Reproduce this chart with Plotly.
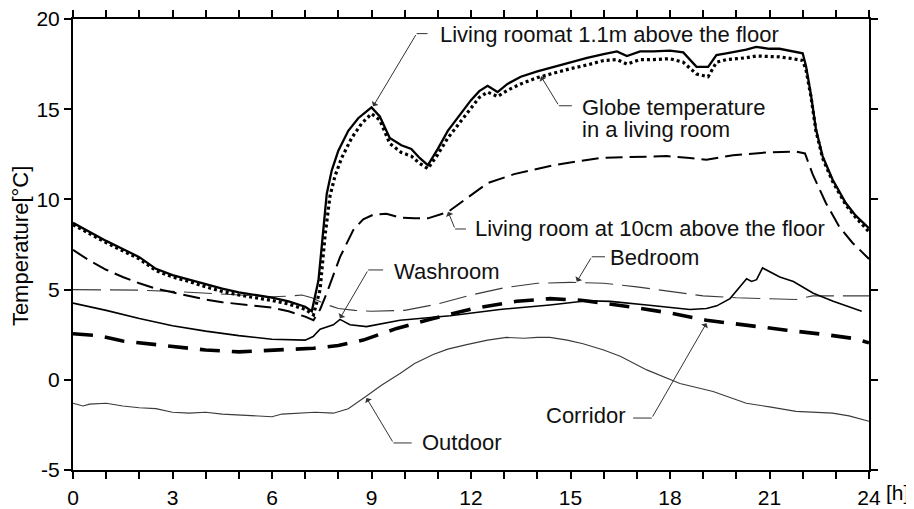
import plotly.graph_objects as go

# ---------------- data ----------------
x_tick_vals = list(range(25))
x_tick_text = ["0", "", "", "3", "", "", "6", "", "", "9", "", "", "12", "", "", "15",
               "", "", "18", "", "", "21", "", "", "24"]
y_tick_vals = [-5, 0, 5, 10, 15, 20]
y_tick_text = ["-5", "0", "5", "10", "15", "20"]

living11_h = [0, 0.5, 1, 1.5, 2, 2.5, 3, 3.5, 4, 4.5, 5, 5.5, 6, 6.5, 7, 7.2, 7.4, 7.5, 7.65,
              7.8, 8.0, 8.3, 8.6, 9.0, 9.25, 9.55, 9.9, 10.2, 10.45, 10.7, 11.0, 11.3, 11.6,
              12.0, 12.25, 12.5, 12.8, 13.1, 13.5, 14.0, 14.5, 15.0, 15.5, 16.0, 16.4, 16.7,
              17.1, 17.5, 18.0, 18.4, 18.8, 19.15, 19.4, 19.7, 20.0, 20.3, 20.6, 21.0, 21.3,
              21.7, 22.0, 22.1, 22.25, 22.4, 22.6, 22.9, 23.3, 23.6, 24.0]
living11_t = [8.7, 8.2, 7.7, 7.25, 6.8, 6.15, 5.8, 5.55, 5.3, 5.05, 4.85, 4.7, 4.55, 4.35, 4.05,
              3.8, 5.5, 7.4, 10.3, 11.6, 12.7, 13.8, 14.5, 15.1, 14.6, 13.4, 13.0, 12.8, 12.3,
              11.9, 12.8, 13.8, 14.5, 15.5, 16.0, 16.3, 15.95, 16.4, 16.8, 17.1, 17.35, 17.6,
              17.85, 18.05, 18.2, 17.95, 18.2, 18.2, 18.25, 18.15, 17.35, 17.35, 18.0, 18.1,
              18.2, 18.3, 18.45, 18.35, 18.35, 18.2, 18.1, 17.4, 15.8, 13.9, 12.4, 11.1, 9.8,
              9.1, 8.4]

globe_h = [0, 0.5, 1, 1.5, 2, 2.5, 3, 3.5, 4, 4.5, 5, 5.5, 6, 6.5, 7, 7.25, 7.45, 7.6, 7.75,
           7.9, 8.1, 8.4, 8.7, 9.0, 9.25, 9.55, 9.9, 10.2, 10.45, 10.7, 11.0, 11.3, 11.6, 12.0,
           12.25, 12.5, 12.8, 13.1, 13.5, 14.0, 14.5, 15.0, 15.5, 16.0, 16.4, 16.7, 17.1, 17.5,
           18.0, 18.4, 18.8, 19.15, 19.4, 19.7, 20.0, 20.3, 20.6, 21.0, 21.3, 21.7, 22.0, 22.1,
           22.25, 22.4, 22.6, 22.9, 23.3, 23.6, 24.0]
globe_t = [8.6, 8.1, 7.6, 7.15, 6.7, 6.05, 5.7, 5.45, 5.15, 4.9, 4.7, 4.55, 4.4, 4.2, 3.9, 3.6,
           5.0, 8.0, 10.2, 11.3, 12.3, 13.4, 14.2, 14.75, 14.4, 13.1, 12.6, 12.4, 12.0, 11.7,
           12.5, 13.4, 14.1, 15.1, 15.65, 15.95, 15.7, 16.05, 16.4, 16.75, 17.0, 17.25, 17.45,
           17.7, 17.75, 17.5, 17.75, 17.75, 17.8, 17.6, 16.95, 16.8, 17.6, 17.75, 17.8, 17.85,
           17.95, 17.9, 17.9, 17.8, 17.7, 17.2, 15.7, 13.8, 12.3, 11.0, 9.7, 9.0, 8.2]

living10_h = [0, 0.5, 1, 1.5, 2, 2.5, 3, 3.5, 4, 4.5, 5, 5.5, 6, 6.5, 7, 7.25, 7.45, 7.65, 8.05,
              8.45, 8.75, 9.05, 9.45, 9.85, 10.3, 10.7, 11.3, 11.9, 12.5, 13.3, 14.5, 15.9,
              16.9, 17.9, 18.6, 19.1, 19.9, 20.9, 21.8, 22.07, 22.3, 22.7, 23.1, 23.5, 24.0]
living10_t = [7.2, 6.6, 6.1, 5.7, 5.35, 5.05, 4.85, 4.65, 4.45, 4.3, 4.2, 4.1, 4.0, 3.8, 3.5,
              3.3, 3.9, 4.8, 6.8, 8.3, 8.9, 9.15, 9.2, 9.0, 8.95, 8.95, 9.3, 10.1, 10.9, 11.4,
              11.9, 12.3, 12.35, 12.4, 12.3, 12.2, 12.45, 12.6, 12.65, 12.55, 11.4, 9.8, 8.5,
              7.6, 6.7]

bedroom_h = [0, 1, 2, 3, 4, 5, 6, 6.6, 6.9, 7.2, 7.6, 8.0, 8.5, 9, 10, 11, 12, 13, 14, 15, 16,
             17, 18, 19, 20, 21, 21.5, 21.8, 22.3, 23, 24]
bedroom_t = [5.0, 5.0, 4.97, 4.9, 4.8, 4.7, 4.6, 4.65, 4.7, 4.55, 4.2, 3.95, 3.85, 3.8, 3.85,
             4.2, 4.7, 5.1, 5.35, 5.4, 5.35, 5.15, 4.9, 4.65, 4.55, 4.5, 4.45, 4.45, 4.65, 4.65,
             4.65]

washroom_h = [0, 1, 2, 3, 4, 5, 6, 7.0, 7.24, 7.45, 7.85, 8.05, 8.35, 8.85, 9.86, 11.37, 12.87,
              14.38, 15.5, 16.2, 17.3, 18.6, 19.1, 19.41, 19.81, 20.31, 20.46, 20.61, 20.79,
              21.31, 21.72, 22.32, 22.92, 23.78]
washroom_t = [4.25, 3.85, 3.4, 3.0, 2.7, 2.45, 2.25, 2.2, 2.4, 2.8, 3.05, 3.35, 3.05, 2.95, 3.3,
              3.55, 3.9, 4.15, 4.38, 4.35, 4.15, 3.9, 3.95, 4.1, 4.5, 5.6, 5.45, 5.55, 6.2, 5.7,
              5.45, 4.8, 4.35, 3.8]

corridor_h = [0, 0.75, 1.5, 2.5, 3.1, 4, 5, 6, 6.5, 7.25, 8.0, 8.75, 9.76, 10.86, 12.07, 13.38,
              14.38, 15.38, 16.79, 18.0, 19.1, 20.31, 21.52, 22.72, 23.5, 24]
corridor_t = [2.55, 2.45, 2.15, 1.95, 1.8, 1.65, 1.55, 1.65, 1.7, 1.75, 1.9, 2.2, 2.85, 3.4, 3.95,
              4.35, 4.5, 4.4, 4.05, 3.7, 3.3, 3.05, 2.75, 2.5, 2.3, 2.05]

outdoor_h = [0, 0.3, 0.5, 1, 1.5, 2, 2.5, 3, 3.5, 4, 4.5, 5, 5.5, 6, 6.3, 7, 7.3, 7.85, 8.3,
             8.85, 9.3, 9.86, 10.3, 10.86, 11.3, 11.87, 12.5, 13.07, 13.6, 14.0, 14.38, 14.9,
             15.38, 16.0, 16.5, 17.3, 18.3, 19.3, 20.3, 21.0, 21.8, 22.9, 23.4, 24]
outdoor_t = [-1.3, -1.45, -1.35, -1.3, -1.45, -1.55, -1.6, -1.8, -1.85, -1.8, -1.9, -1.95, -2.0,
             -2.05, -1.9, -1.85, -1.8, -1.85, -1.6, -0.9, -0.3, 0.35, 0.9, 1.4, 1.7, 1.95, 2.2,
             2.35, 2.3, 2.35, 2.35, 2.2, 2.0, 1.65, 1.3, 0.55, -0.2, -0.65, -1.3, -1.5, -1.75,
             -1.85, -2.0, -2.3]

# ---------------- figure ----------------
FONT = "Liberation Sans, Arial, sans-serif"
fig = go.Figure()


def add_line(x, y, width, dash, color="black"):
    fig.add_trace(go.Scatter(x=x, y=y, mode="lines", showlegend=False, hoverinfo="skip",
                             line=dict(color=color, width=width, dash=dash)))


add_line(outdoor_h, outdoor_t, 1.1, "solid", "#3a3a3a")
add_line(bedroom_h, bedroom_t, 1.1, "28px,9px", "#3a3a3a")
add_line(washroom_h, washroom_t, 1.6, "solid")
add_line(corridor_h, corridor_t, 3.6, "20px,12px")
add_line(living10_h, living10_t, 2.0, "17px,7px")
add_line(globe_h, globe_t, 3.2, "3px,3px")
add_line(living11_h, living11_t, 2.3, "solid")

# label texts: (text, x, y, xanchor)
labels = [
    ("Living roomat 1.1m above the floor", 11.0, 19.15, "left"),
    ("Globe temperature", 15.28, 15.1, "left"),
    ("in a living room", 15.28, 13.9, "left"),
    ("Living room at 10cm above the floor", 12.07, 8.4, "left"),
    ("Washroom", 9.61, 6.03, "left"),
    ("Bedroom", 16.14, 6.78, "left"),
    ("Corridor", 16.69, -1.99, "right"),
    ("Outdoor", 10.46, -3.46, "left"),
]
# leaders: (tip x, tip y, elbow x, elbow y, horizontal end x)
leaders = [
    (9.05, 15.16, 10.36, 19.19, 10.69),
    (14.11, 16.82, 14.65, 15.19, 15.04),
    (11.31, 9.31, 11.52, 8.36, 11.85),
    (8.05, 3.41, 8.90, 6.09, 9.35),
    (15.19, 5.44, 15.64, 6.82, 16.04),
    (19.10, 3.14, 17.45, -2.12, 16.89),
    (8.85, -1.01, 9.66, -3.50, 10.21),
]

annotations = []
for text, x, y, xa in labels:
    annotations.append(dict(text=text, x=x, y=y, xref="x", yref="y", xanchor=xa,
                            yanchor="middle", showarrow=False,
                            font=dict(family=FONT, size=22, color="#111")))
shapes = []
for tx, ty, ex, ey, hx in leaders:
    annotations.append(dict(text="", x=tx, y=ty, xref="x", yref="y", ax=ex, ay=ey,
                            axref="x", ayref="y", showarrow=True, arrowhead=1,
                            arrowsize=1.3, arrowwidth=1, arrowcolor="#333", standoff=0,
                            startstandoff=0))
    shapes.append(dict(type="line", xref="x", yref="y", x0=ex, y0=ey, x1=hx, y1=ey,
                       line=dict(color="#333", width=1)))

annotations.append(dict(text="Temperature[°C]", xref="paper", yref="paper", x=-0.065,
                        y=0.497, textangle=-90, showarrow=False, xanchor="center",
                        yanchor="middle", font=dict(family=FONT, size=22, color="black")))
annotations.append(dict(text="[h]", xref="paper", yref="paper", x=1.019, y=-0.05,
                        xanchor="left", yanchor="middle", showarrow=False,
                        font=dict(family=FONT, size=21, color="black")))

# the page adds an 8px body margin, so the figure is 8px smaller than the window
fig.update_layout(
    width=906, height=501, autosize=False,
    margin=dict(l=65, r=45, t=11, b=39, pad=0, autoexpand=False),
    paper_bgcolor="white", plot_bgcolor="white",
    font=dict(family=FONT, size=21, color="black"),
    annotations=annotations, shapes=shapes,
    xaxis=dict(range=[0, 24], tickvals=x_tick_vals, ticktext=x_tick_text, ticks="outside",
               ticklen=7, tickwidth=1.5, tickcolor="black", showline=True, linewidth=2,
               linecolor="black", mirror="ticks", showgrid=False, zeroline=False,
               automargin=False, ticklabeloverflow="allow",
               tickfont=dict(family=FONT, size=21, color="black"), ticklabelstandoff=1),
    yaxis=dict(range=[-5, 20], tickvals=y_tick_vals, ticktext=y_tick_text, ticks="outside",
               ticklen=7, tickwidth=1.5, tickcolor="black", showline=True, linewidth=2,
               linecolor="black", mirror="ticks", showgrid=False, zeroline=False,
               automargin=False, ticklabeloverflow="allow",
               tickfont=dict(family=FONT, size=21, color="black")),
)

fig.write_html("out.html")
